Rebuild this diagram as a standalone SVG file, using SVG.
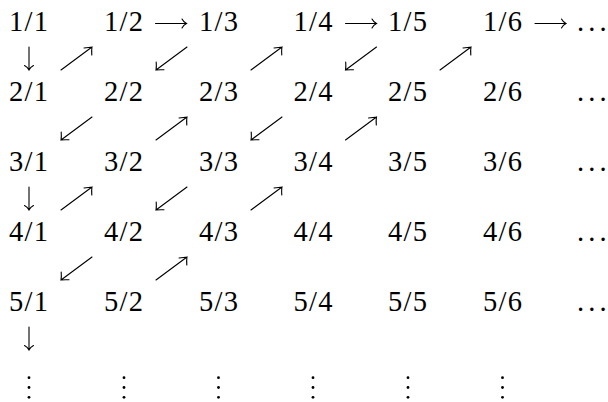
<svg xmlns="http://www.w3.org/2000/svg" xmlns:xlink="http://www.w3.org/1999/xlink" width="608" height="402" viewBox="0 0 608 402">
<style>
  text { font-family: "Liberation Serif", "Times New Roman", serif; font-size: 28.5px; fill: #000; }
  .n { text-anchor: middle; }
  .arr { fill: none; stroke: #000; stroke-width: 1.1; stroke-linecap: round; }
  .vd { fill: #000; }
</style>
<defs>
  <path id="ne" class="arr" d="M0,23 L31,0 M23,1 Q28,0.4 31,0 Q30.4,3 30.8,8"/>
  <path id="sw" class="arr" d="M31,0 L0,23 M8,22.8 Q3,22.6 0,23 Q0.6,20 0.2,15"/>
  <path id="rt" class="arr" d="M0,0 L31,0 M26.5,-4.5 Q28,-1.5 31,0 Q28,1.5 26.5,4.5"/>
  <path id="dn" class="arr" d="M0,0 L0,23 M-4.5,18.5 Q-1.5,20 0,23 Q1.5,20 4.5,18.5"/>
  <g id="vdots">
    <circle class="vd" cx="0" cy="0" r="1.4"/>
    <circle class="vd" cx="0" cy="9.8" r="1.4"/>
    <circle class="vd" cx="0" cy="19.6" r="1.4"/>
  </g>
</defs>

<g id="connectors">
  <use xlink:href="#rt" x="155.5" y="23.5"/>
  <use xlink:href="#rt" x="345.5" y="23.5"/>
  <use xlink:href="#rt" x="535" y="23.5"/>

  <use xlink:href="#dn" x="29" y="47"/>
  <use xlink:href="#ne" x="61" y="47"/>
  <use xlink:href="#sw" x="156" y="47"/>
  <use xlink:href="#ne" x="251" y="47"/>
  <use xlink:href="#sw" x="345.5" y="47"/>
  <use xlink:href="#ne" x="440" y="47"/>

  <use xlink:href="#sw" x="61" y="117"/>
  <use xlink:href="#ne" x="156" y="117"/>
  <use xlink:href="#sw" x="251" y="117"/>
  <use xlink:href="#ne" x="345.5" y="117"/>

  <use xlink:href="#dn" x="29" y="187"/>
  <use xlink:href="#ne" x="61" y="187"/>
  <use xlink:href="#sw" x="156" y="187"/>
  <use xlink:href="#ne" x="251" y="187"/>

  <use xlink:href="#sw" x="61" y="257"/>
  <use xlink:href="#ne" x="156" y="257"/>

  <use xlink:href="#dn" x="29" y="327"/>
</g>

<g id="row1">
  <g id="n1-1"><text class="n" x="28.5" y="31" textLength="39">1/1</text></g>
  <g id="n1-2"><text class="n" x="123.5" y="31" textLength="39">1/2</text></g>
  <g id="n1-3"><text class="n" x="218.5" y="31" textLength="39">1/3</text></g>
  <g id="n1-4"><text class="n" x="313" y="31" textLength="39">1/4</text></g>
  <g id="n1-5"><text class="n" x="407.5" y="31" textLength="39">1/5</text></g>
  <g id="n1-6"><text class="n" x="502.5" y="31" textLength="39">1/6</text></g>
  <g id="n1-e"><text x="577 588.3 599.6" y="31">...</text></g>
</g>
<g id="row2">
  <g id="n2-1"><text class="n" x="28.5" y="100.5" textLength="39">2/1</text></g>
  <g id="n2-2"><text class="n" x="123.5" y="100.5" textLength="39">2/2</text></g>
  <g id="n2-3"><text class="n" x="218.5" y="100.5" textLength="39">2/3</text></g>
  <g id="n2-4"><text class="n" x="313" y="100.5" textLength="39">2/4</text></g>
  <g id="n2-5"><text class="n" x="407.5" y="100.5" textLength="39">2/5</text></g>
  <g id="n2-6"><text class="n" x="502.5" y="100.5" textLength="39">2/6</text></g>
  <g id="n2-e"><text x="577 588.3 599.6" y="100.5">...</text></g>
</g>
<g id="row3">
  <g id="n3-1"><text class="n" x="28.5" y="170.5" textLength="39">3/1</text></g>
  <g id="n3-2"><text class="n" x="123.5" y="170.5" textLength="39">3/2</text></g>
  <g id="n3-3"><text class="n" x="218.5" y="170.5" textLength="39">3/3</text></g>
  <g id="n3-4"><text class="n" x="313" y="170.5" textLength="39">3/4</text></g>
  <g id="n3-5"><text class="n" x="407.5" y="170.5" textLength="39">3/5</text></g>
  <g id="n3-6"><text class="n" x="502.5" y="170.5" textLength="39">3/6</text></g>
  <g id="n3-e"><text x="577 588.3 599.6" y="170.5">...</text></g>
</g>
<g id="row4">
  <g id="n4-1"><text class="n" x="28.5" y="240.5" textLength="39">4/1</text></g>
  <g id="n4-2"><text class="n" x="123.5" y="240.5" textLength="39">4/2</text></g>
  <g id="n4-3"><text class="n" x="218.5" y="240.5" textLength="39">4/3</text></g>
  <g id="n4-4"><text class="n" x="313" y="240.5" textLength="39">4/4</text></g>
  <g id="n4-5"><text class="n" x="407.5" y="240.5" textLength="39">4/5</text></g>
  <g id="n4-6"><text class="n" x="502.5" y="240.5" textLength="39">4/6</text></g>
  <g id="n4-e"><text x="577 588.3 599.6" y="240.5">...</text></g>
</g>
<g id="row5">
  <g id="n5-1"><text class="n" x="28.5" y="310.5" textLength="39">5/1</text></g>
  <g id="n5-2"><text class="n" x="123.5" y="310.5" textLength="39">5/2</text></g>
  <g id="n5-3"><text class="n" x="218.5" y="310.5" textLength="39">5/3</text></g>
  <g id="n5-4"><text class="n" x="313" y="310.5" textLength="39">5/4</text></g>
  <g id="n5-5"><text class="n" x="407.5" y="310.5" textLength="39">5/5</text></g>
  <g id="n5-6"><text class="n" x="502.5" y="310.5" textLength="39">5/6</text></g>
  <g id="n5-e"><text x="577 588.3 599.6" y="310.5">...</text></g>
</g>
<g id="row6">
  <use id="v1" xlink:href="#vdots" x="29" y="377.7"/>
  <use id="v2" xlink:href="#vdots" x="124" y="377.7"/>
  <use id="v3" xlink:href="#vdots" x="218.5" y="377.7"/>
  <use id="v4" xlink:href="#vdots" x="313" y="377.7"/>
  <use id="v5" xlink:href="#vdots" x="408" y="377.7"/>
  <use id="v6" xlink:href="#vdots" x="502.5" y="377.7"/>
</g>
</svg>
